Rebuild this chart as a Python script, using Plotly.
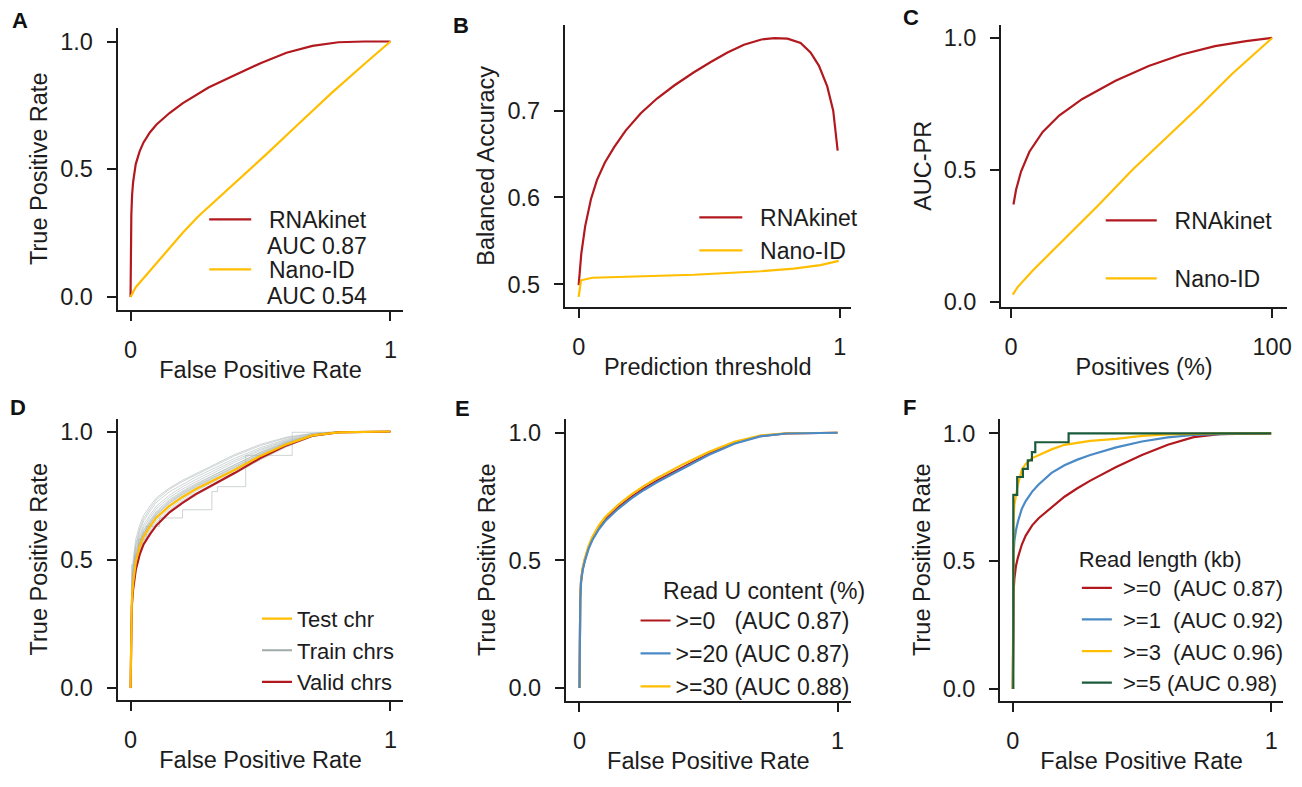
import plotly.graph_objects as go

FONT = "Liberation Sans, Arial, Helvetica, sans-serif"
RED = "#B2191E"
YEL = "#FFBE00"
BLUE = "#4A8AC6"
GREEN = "#1B5B3B"
GREY = "rgba(165,178,177,0.55)"
GREY_LEG = "#A0ABAA"
INK = "#1C1C1C"
W, H = 1302, 787
NB = "\u00a0"

# ---------------- Panel A : ROC, RNAkinet vs Nano-ID ----------------
a_rna_fpr = [0, 0.001, 0.003, 0.006, 0.01, 0.02, 0.035, 0.05, 0.075, 0.1, 0.15, 0.2,
             0.25, 0.3, 0.4, 0.5, 0.6, 0.7, 0.8, 0.9, 1.0]
a_rna_tpr = [0, 0.2, 0.32, 0.40, 0.45, 0.52, 0.57, 0.605, 0.645, 0.675, 0.72, 0.758,
             0.79, 0.82, 0.868, 0.915, 0.956, 0.983, 0.997, 1.0, 1.0]
a_nano_fpr = [0, 0.02, 0.06, 0.137, 0.2, 0.26, 0.33, 0.392, 0.52, 0.647, 0.775, 0.903, 1.0]
a_nano_tpr = [0, 0.038, 0.085, 0.175, 0.25, 0.315, 0.38, 0.44, 0.556, 0.678, 0.80, 0.915, 1.0]
a_auc = ["AUC 0.87", "AUC 0.54"]

# ---------------- Panel B : balanced accuracy vs threshold ----------------
b_rna_thr = [0, 0.01, 0.025, 0.047, 0.07, 0.1, 0.136, 0.18, 0.238, 0.3, 0.366, 0.44,
             0.506, 0.57, 0.633, 0.7, 0.75, 0.8, 0.85, 0.888, 0.92, 0.952, 0.975, 0.992]
b_rna_acc = [0.499, 0.535, 0.567, 0.598, 0.62, 0.64, 0.658, 0.677, 0.697, 0.714, 0.729, 0.744,
             0.756, 0.767, 0.776, 0.782, 0.7835, 0.783, 0.778, 0.767, 0.752, 0.728, 0.70, 0.654]
b_nano_thr = [0, 0.009, 0.053, 0.206, 0.442, 0.697, 0.824, 0.926, 0.996]
b_nano_acc = [0.4855, 0.5046, 0.5075, 0.509, 0.511, 0.515, 0.518, 0.522, 0.527]

# ---------------- Panel C : AUC-PR vs positives ----------------
c_rna_pos = [0.9, 1.9, 3.8, 7.0, 12.1, 18.4, 27.3, 40.0, 52.7, 65.4, 78.1, 90, 100]
c_rna_pr = [0.369, 0.425, 0.494, 0.569, 0.644, 0.706, 0.769, 0.8375, 0.894, 0.9375, 0.969, 0.988, 1.0]
c_nano_pos = [0.6, 2.5, 8.3, 21, 33.7, 46.4, 59.1, 71.8, 84.5, 100]
c_nano_pr = [0.0275, 0.056, 0.119, 0.244, 0.369, 0.5, 0.619, 0.7375, 0.8625, 1.0]

# ---------------- Panel D : per-chromosome ROC ----------------
d_fpr = [0, 0.002, 0.005, 0.01, 0.02, 0.035, 0.05, 0.075, 0.1, 0.15, 0.2, 0.25, 0.3,
         0.4, 0.5, 0.6, 0.7, 0.8, 1.0]
d_test_tpr = [0, 0.25, 0.34, 0.41, 0.49, 0.55, 0.59, 0.63, 0.665, 0.71, 0.745, 0.775, 0.80,
              0.85, 0.905, 0.95, 0.985, 0.997, 1.0]
d_valid_tpr = [0, 0.23, 0.32, 0.385, 0.46, 0.52, 0.56, 0.60, 0.635, 0.685, 0.722, 0.755, 0.782,
               0.838, 0.897, 0.946, 0.984, 0.997, 1.0]
d_train_tpr = [
    [0, 0.30, 0.40, 0.48, 0.56, 0.62, 0.66, 0.70, 0.735, 0.775, 0.805, 0.83, 0.855, 0.905, 0.945, 0.975, 0.992, 0.999, 1],
    [0, 0.31, 0.42, 0.50, 0.58, 0.635, 0.672, 0.71, 0.742, 0.78, 0.81, 0.835, 0.86, 0.91, 0.95, 0.978, 0.993, 0.999, 1],
    [0, 0.29, 0.39, 0.47, 0.55, 0.61, 0.65, 0.69, 0.725, 0.765, 0.795, 0.822, 0.846, 0.895, 0.937, 0.97, 0.99, 0.998, 1],
    [0, 0.28, 0.38, 0.455, 0.535, 0.595, 0.635, 0.675, 0.71, 0.752, 0.785, 0.812, 0.837, 0.887, 0.931, 0.966, 0.988, 0.998, 1],
    [0, 0.27, 0.37, 0.445, 0.525, 0.585, 0.625, 0.665, 0.70, 0.743, 0.776, 0.803, 0.828, 0.88, 0.926, 0.963, 0.987, 0.998, 1],
    [0, 0.27, 0.36, 0.44, 0.515, 0.575, 0.615, 0.655, 0.69, 0.735, 0.768, 0.796, 0.821, 0.873, 0.92, 0.96, 0.986, 0.997, 1],
    [0, 0.26, 0.355, 0.43, 0.505, 0.565, 0.605, 0.645, 0.68, 0.726, 0.76, 0.788, 0.814, 0.866, 0.915, 0.957, 0.985, 0.997, 1],
    [0, 0.25, 0.35, 0.425, 0.50, 0.56, 0.60, 0.64, 0.675, 0.72, 0.754, 0.782, 0.808, 0.86, 0.91, 0.953, 0.984, 0.997, 1],
    [0, 0.26, 0.35, 0.42, 0.495, 0.553, 0.593, 0.633, 0.668, 0.713, 0.748, 0.776, 0.802, 0.855, 0.906, 0.951, 0.983, 0.997, 1],
    [0, 0.24, 0.33, 0.405, 0.48, 0.54, 0.58, 0.62, 0.655, 0.70, 0.737, 0.767, 0.793, 0.847, 0.90, 0.947, 0.982, 0.996, 1],
    [0, 0.23, 0.32, 0.40, 0.475, 0.532, 0.572, 0.612, 0.646, 0.693, 0.73, 0.76, 0.786, 0.84, 0.895, 0.944, 0.981, 0.996, 1],
    [0, 0.22, 0.31, 0.385, 0.46, 0.52, 0.56, 0.60, 0.635, 0.682, 0.72, 0.75, 0.778, 0.835, 0.89, 0.94, 0.98, 0.996, 1],
    [0, 0.265, 0.36, 0.435, 0.51, 0.57, 0.61, 0.65, 0.685, 0.73, 0.764, 0.792, 0.818, 0.87, 0.918, 0.958, 0.985, 0.997, 1],
    [0, 0.255, 0.352, 0.428, 0.503, 0.562, 0.602, 0.642, 0.677, 0.722, 0.757, 0.785, 0.811, 0.863, 0.912, 0.955, 0.984, 0.997, 1],
]
d_step_fpr = [0, 0.004, 0.015, 0.03, 0.06, 0.111, 0.2, 0.313, 0.335, 0.443, 0.622, 1.0]
d_step_tpr = [0, 0.48, 0.515, 0.58, 0.63, 0.663, 0.695, 0.766, 0.785, 0.907, 0.997, 1.0]

# ---------------- Panel E : ROC by read U content ----------------
e_fpr = [0, 0.001, 0.003, 0.006, 0.012, 0.02, 0.035, 0.05, 0.075, 0.1, 0.15, 0.2, 0.25, 0.3,
         0.4, 0.5, 0.6, 0.7, 0.8, 0.9, 1.0]
e_u0_tpr = [0, 0.25, 0.35, 0.42, 0.465, 0.50, 0.55, 0.585, 0.628, 0.66, 0.708, 0.748, 0.782, 0.812,
            0.866, 0.917, 0.96, 0.987, 0.997, 0.999, 1]
e_u20_tpr = [0, 0.25, 0.345, 0.415, 0.46, 0.495, 0.545, 0.58, 0.622, 0.654, 0.702, 0.742, 0.776, 0.806,
             0.861, 0.913, 0.957, 0.986, 0.997, 0.999, 1]
e_u30_tpr = [0, 0.25, 0.35, 0.42, 0.47, 0.505, 0.557, 0.593, 0.637, 0.67, 0.718, 0.758, 0.792, 0.822,
             0.876, 0.925, 0.965, 0.989, 0.998, 0.999, 1]
e_names = [">=0" + NB * 3 + "(AUC 0.87)", ">=20 (AUC 0.87)", ">=30 (AUC 0.88)"]

# ---------------- Panel F : ROC by read length ----------------
f_fpr = [0, 0.001, 0.003, 0.006, 0.012, 0.02, 0.035, 0.05, 0.075, 0.1, 0.15, 0.2, 0.25, 0.3,
         0.4, 0.5, 0.6, 0.7, 0.8, 0.9, 1.0]
f_l0_tpr = [0, 0.28, 0.38, 0.43, 0.48, 0.515, 0.565, 0.6, 0.64, 0.668, 0.71, 0.752, 0.785, 0.815,
            0.868, 0.915, 0.955, 0.985, 0.997, 0.999, 1]
f_l1_tpr = [0, 0.42, 0.52, 0.578, 0.62, 0.655, 0.705, 0.735, 0.772, 0.8, 0.845, 0.875, 0.897, 0.915,
            0.945, 0.968, 0.984, 0.994, 0.998, 1.0, 1]
f_l3_tpr = [0, 0.52, 0.66, 0.72, 0.76, 0.80, 0.858, 0.88, 0.903, 0.915, 0.937, 0.955, 0.963, 0.97,
            0.978, 0.99, 0.996, 0.999, 1, 1, 1]
f_l5_fpr = [0.002, 0.002, 0.017, 0.039, 0.058, 0.074, 0.087, 0.216, 1.0]
f_l5_tpr = [0, 0.759, 0.829, 0.861, 0.894, 0.926, 0.965, 1.0, 1.0]
f_names = [">=0" + NB * 2 + "(AUC 0.87)", ">=1" + NB * 2 + "(AUC 0.92)",
           ">=3" + NB * 2 + "(AUC 0.96)", ">=5 (AUC 0.98)"]

fig = go.Figure()

def line(x, y, color, name, xa, ya, leg, width=2.2, show=True, rank=1, shape="linear", group=None):
    fig.add_trace(go.Scatter(x=x, y=y, mode="lines", name=name, xaxis=xa, yaxis=ya,
                             legend=leg, showlegend=show, legendrank=rank,
                             legendgroup=group,
                             line=dict(color=color, width=width, shape=shape),
                             hoverinfo="skip"))

# A
line(a_rna_fpr, a_rna_tpr, RED, NB * 2 + "RNAkinet", "x", "y", "legend", rank=1, group="a1")
line(a_nano_fpr, a_nano_tpr, YEL, NB * 2 + "Nano-ID", "x", "y", "legend", rank=2, group="a2")
# B
line(b_rna_thr, b_rna_acc, RED, NB * 2 + "RNAkinet", "x2", "y2", "legend2", rank=1)
line(b_nano_thr, b_nano_acc, YEL, NB * 2 + "Nano-ID", "x2", "y2", "legend2", rank=2)
# C
line(c_rna_pos, c_rna_pr, RED, NB * 2 + "RNAkinet", "x3", "y3", "legend3", rank=1, group="c1")
line(c_nano_pos, c_nano_pr, YEL, NB * 2 + "Nano-ID", "x3", "y3", "legend3", rank=2, group="c2")
# D
for tpr in d_train_tpr:
    line(d_fpr, tpr, GREY, "Train chrs", "x4", "y4", "legend4", width=1, show=False)
line(d_step_fpr, d_step_tpr, GREY, "Train chrs", "x4", "y4", "legend4", width=1, show=False, shape="hv")
line([None], [None], GREY_LEG, "Train chrs", "x4", "y4", "legend4", rank=2)
line(d_fpr, d_valid_tpr, RED, "Valid chrs", "x4", "y4", "legend4", rank=3)
line(d_fpr, d_test_tpr, YEL, "Test chr", "x4", "y4", "legend4", rank=1)
# E
line(e_fpr, e_u0_tpr, RED, e_names[0], "x5", "y5", "legend5", rank=1)
line(e_fpr, e_u30_tpr, YEL, e_names[2], "x5", "y5", "legend5", rank=3)
line(e_fpr, e_u20_tpr, BLUE, e_names[1], "x5", "y5", "legend5", rank=2)
# F
line(f_fpr, f_l0_tpr, RED, NB + f_names[0], "x6", "y6", "legend6", rank=1)
line(f_fpr, f_l1_tpr, BLUE, NB + f_names[1], "x6", "y6", "legend6", rank=2)
line(f_fpr, f_l3_tpr, YEL, NB + f_names[2], "x6", "y6", "legend6", rank=3)
line(f_l5_fpr, f_l5_tpr, GREEN, NB + f_names[3], "x6", "y6", "legend6", rank=4, shape="hv")

# ---------------- layout ----------------
panels = [
    dict(xd=(118, 405), yd=(28, 313), xr=(-0.05, 1.05), yr=(-0.0504, 1.054),
         xt=[0, 1], xl=["0", "1"], yt=[0, 0.5, 1], yl=["0.0", "0.5", "1.0"],
         xtitle="False Positive Rate", ytitle="True Positive Rate"),
    dict(xd=(567, 854), yd=(25, 310), xr=(-0.053, 1.042), yr=(0.474, 0.799),
         xt=[0, 1], xl=["0", "1"], yt=[0.5, 0.6, 0.7], yl=["0.5", "0.6", "0.7"],
         xtitle="Prediction threshold", ytitle="Balanced Accuracy"),
    dict(xd=(1005, 1292), yd=(25, 310), xr=(-3.82, 105.7), yr=(-0.0187, 1.05),
         xt=[0, 100], xl=["0", "100"], yt=[0, 0.5, 1], yl=["0.0", "0.5", "1.0"],
         xtitle="Positives (%)", ytitle="AUC-PR"),
    dict(xd=(118, 405), yd=(423, 707), xr=(-0.05, 1.05), yr=(-0.046, 1.05),
         xt=[0, 1], xl=["0", "1"], yt=[0, 0.5, 1], yl=["0.0", "0.5", "1.0"],
         xtitle="False Positive Rate", ytitle="True Positive Rate"),
    dict(xd=(568, 854), yd=(423, 708), xr=(-0.053, 1.051), yr=(-0.05, 1.055),
         xt=[0, 1], xl=["0", "1"], yt=[0, 0.5, 1], yl=["0.0", "0.5", "1.0"],
         xtitle="False Positive Rate", ytitle="True Positive Rate"),
    dict(xd=(1004, 1288), yd=(423, 708), xr=(-0.049, 1.046), yr=(-0.046, 1.057),
         xt=[0, 1], xl=["0", "1"], yt=[0, 0.5, 1], yl=["0.0", "0.5", "1.0"],
         xtitle="False Positive Rate", ytitle="True Positive Rate"),
]

tickfont = dict(family=FONT, size=23.5, color=INK)
layout = dict(width=W, height=H, margin=dict(l=0, r=0, t=0, b=0),
              paper_bgcolor="white", plot_bgcolor="white",
              font=dict(family=FONT, size=23, color=INK), hovermode=False)

for i, p in enumerate(panels, start=1):
    sx = "" if i == 1 else str(i)
    common = dict(showline=True, linecolor=INK, linewidth=2, ticks="outside", ticklen=9,
                  tickwidth=2, tickcolor=INK, showgrid=False, zeroline=False,
                  tickfont=tickfont, fixedrange=True, ticklabelstandoff=9)
    layout["xaxis" + sx] = dict(common, domain=[p["xd"][0] / W, p["xd"][1] / W],
                                range=list(p["xr"]), tickvals=p["xt"], ticktext=p["xl"],
                                anchor="y" + sx,
                                title=dict(text=p["xtitle"], font=tickfont, standoff=0))
    layout["yaxis" + sx] = dict(common, domain=[1 - p["yd"][1] / H, 1 - p["yd"][0] / H],
                                range=list(p["yr"]), tickvals=p["yt"], ticktext=p["yl"],
                                anchor="x" + sx,
                                title=dict(text=p["ytitle"], font=tickfont, standoff=6))

def leg(x, y, itemwidth=30, title=None, size=23, gap=0):
    f = dict(family=FONT, size=size, color=INK)
    d = dict(x=x / W, y=1 - y / H, xanchor="left", yanchor="top", bgcolor="rgba(0,0,0,0)",
             font=f, itemwidth=itemwidth, tracegroupgap=gap,
             itemclick=False, itemdoubleclick=False)
    if title:
        d["title"] = dict(text=title, font=f, side="top")
    return d

layout["legend"] = leg(205, 200, itemwidth=42, gap=17)
layout["legend2"] = leg(697, 198, itemwidth=43)
layout["legend3"] = leg(1105, 201, itemwidth=51, gap=25)
layout["legend4"] = leg(258, 604, itemwidth=30, size=22)
layout["legend5"] = leg(638, 575, itemwidth=30, title=NB * 4 + "Read U content (%)")
layout["legend6"] = leg(1081, 544, itemwidth=30, title="Read length (kb)", size=22)

labels = [("A", 20, 21), ("B", 463, 26), ("C", 915, 18), ("D", 18, 412), ("E", 464, 413), ("F", 913, 412)]
ann = [dict(text="<b>%s</b>" % t, x=x / W, y=1 - y / H, xref="paper", yref="paper",
            xanchor="center", yanchor="middle", showarrow=False,
            font=dict(family=FONT, size=22, color="#111111"))
       for t, x, y in labels]
# second line of the panel-A legend entries
for txt, yy in zip(a_auc, [249, 299]):
    ann.append(dict(text=txt, x=266 / W, y=1 - yy / H, xref="paper", yref="paper",
                    xanchor="left", yanchor="middle", showarrow=False,
                    font=dict(family=FONT, size=23, color=INK)))
layout["annotations"] = ann

fig.update_layout(**layout)
fig.write_html("out.html", config={"displayModeBar": False},
               post_script="document.body.style.margin='0px';document.body.style.overflow='hidden';")
